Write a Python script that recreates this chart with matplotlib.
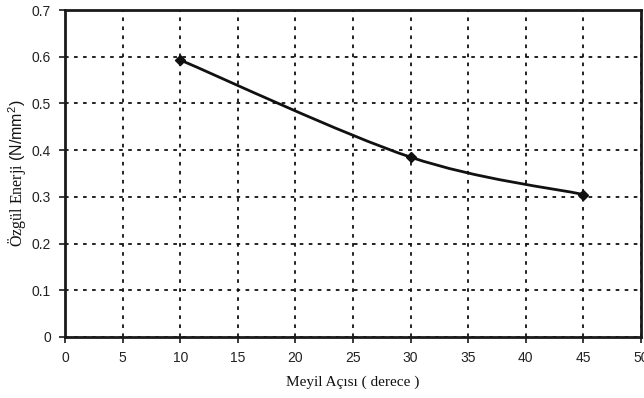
import matplotlib
matplotlib.use("Agg")
import matplotlib.pyplot as plt
from matplotlib.path import Path
from matplotlib.patches import PathPatch
import numpy as np

plt.rcParams["mathtext.fontset"] = "custom"
plt.rcParams["mathtext.sf"] = "Liberation Sans"
plt.rcParams["mathtext.rm"] = "Liberation Sans"

# Slope angle (degrees) vs specific energy (N/mm^2)
angles = [10, 30, 45]
energy = [0.593, 0.385, 0.305]

x_ticks = [0, 5, 10, 15, 20, 25, 30, 35, 40, 45, 50]
y_ticks = [0, 0.1, 0.2, 0.3, 0.4, 0.5, 0.6, 0.7]
y_tick_labels = ["0", "0.1", "0.2", "0.3", "0.4", "0.5", "0.6", "0.7"]

fig = plt.figure(figsize=(6.44, 3.98), dpi=100)
ax = fig.add_axes([65 / 644, 1 - 337 / 398, (641 - 65) / 644, (337 - 10) / 398])

ax.set_xlim(0, 50)
ax.set_ylim(0, 0.7)

# smoothed curve through the points (Catmull-Rom style cubic Beziers)
pts = np.column_stack([angles, energy]).astype(float)
n = len(pts)
verts = [tuple(pts[0])]
codes = [Path.MOVETO]
for i in range(n - 1):
    p0 = pts[i - 1] if i > 0 else pts[i]
    p1 = pts[i]
    p2 = pts[i + 1]
    p3 = pts[i + 2] if i + 2 < n else pts[i + 1]
    c1 = p1 + (p2 - p0) / 6.0
    c2 = p2 - (p3 - p1) / 6.0
    verts += [tuple(c1), tuple(c2), tuple(p2)]
    codes += [Path.CURVE4] * 3
curve = PathPatch(Path(verts, codes), facecolor="none", edgecolor="#111111",
                  linewidth=2.0, zorder=3, capstyle="round", joinstyle="round")
ax.add_patch(curve)
ax.plot(angles, energy, linestyle="none", marker="D", markersize=5,
        color="#111111", zorder=4)

ax.set_xticks(x_ticks)
ax.set_yticks(y_ticks)
ax.set_yticklabels(y_tick_labels)
ax.grid(True, color="#111111", linestyle=(0, (2, 3)), linewidth=1.3)
ax.set_axisbelow(True)

for s in ax.spines.values():
    s.set_linewidth(2.0)
    s.set_color("#1a1a1a")
    s.set_zorder(5)

ax.tick_params(direction="out", length=4, width=1.2, color="#1a1a1a",
               labelsize=10, pad=6, labelcolor="#222222")
for lab in ax.get_xticklabels() + ax.get_yticklabels():
    lab.set_fontfamily("Liberation Sans")

ax.set_xlabel("Meyil Açısı ( derece )", fontfamily="Liberation Serif",
              fontsize=11, labelpad=8, color="#111111")
ax.set_ylabel(r"Özgül Enerji $\mathsf{(N/mm^{2})}$", fontfamily="Liberation Serif",
              fontsize=11.5, labelpad=2, color="#111111")

fig.savefig("out.png", dpi=100)
